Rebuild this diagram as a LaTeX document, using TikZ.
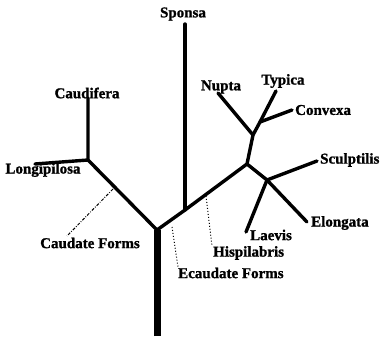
\documentclass[tikz,border=0pt]{standalone}
\usepackage{fontspec}
\setmainfont{Liberation Serif}[BoldFeatures={FakeBold=1.2}]
\usetikzlibrary{positioning}

\begin{document}
\begin{tikzpicture}[x=1pt, y=-1pt,
    branch/.style={line width=3.4pt, line cap=round, line join=round},
    trunk/.style={line width=7pt},
    label/.style={font=\fontsize{15}{15}\selectfont\bfseries, inner sep=0pt},
    guide/.style={line width=1pt, dotted},
    guidedash/.style={line width=1pt, dash pattern=on 3pt off 1.5pt on 0.8pt off 1.5pt}]
        \useasboundingbox (0,0) rectangle (381,337);
        % Define the forks
        \coordinate (base) at (157,336);
        \coordinate (root) at (157,230);
        \coordinate (lfork) at (88,160);
        \coordinate (sfork) at (185,210);
        \coordinate (ufork) at (247,164);
        \coordinate (nfork) at (253,135);
        \coordinate (tfork) at (260,122);
        \coordinate (dfork) at (267,180);
        % Define the tips
        \coordinate (caud_t) at (88,98);
        \coordinate (long_t) at (35,164);
        \coordinate (spon_t) at (185,24);
        \coordinate (nupt_t) at (218,93);
        \coordinate (typi_t) at (276,91);
        \coordinate (conv_t) at (292,110);
        \coordinate (scul_t) at (317,161);
        \coordinate (elon_t) at (307,222);
        \coordinate (laev_t) at (246,232);
        % Define the labels
        \node[label] (spon) at (183,14) {Sponsa};
        \node[label] (caud) at (87,93) {Caudifera};
        \node[label] (long) at (43,170) {Longipilosa};
        \node[label] (nupt) at (221,87) {Nupta};
        \node[label] (typi) at (283,81) {Typica};
        \node[label, anchor=west] (conv) at (295,110) {Convexa};
        \node[label, anchor=west] (scul) at (320,160) {Sculptilis};
        \node[label, anchor=west] (elon) at (311,223) {Elongata};
        \node[label, anchor=west] (laev) at (250,235) {Laevis};
        \node[label, anchor=west] (hisp) at (213,253) {Hispilabris};
        \node[label, anchor=west] (ecau) at (178,273) {Ecaudate Forms};
        \node[label] (cauf) at (90,243) {Caudate Forms};
        % Define the guides
        \coordinate (cauf_a) at (113,189);
        \coordinate (cauf_b) at (67,236);
        \coordinate (ecau_a) at (172,227);
        \coordinate (ecau_b) at (178,267);
        \coordinate (hisp_a) at (206,196);
        \coordinate (hisp_b) at (212,246);
        % Draw the tree
        \draw[trunk] (base) -- (root);
        \draw[branch] (root) -- (lfork) -- (caud_t);
        \draw[branch] (lfork) -- (long_t);
        \draw[branch] (root) -- (sfork) -- (ufork) -- (nfork) -- (tfork) -- (typi_t);
        \draw[branch] (sfork) -- (spon_t);
        \draw[branch] (nfork) -- (nupt_t);
        \draw[branch] (tfork) -- (conv_t);
        \draw[branch] (ufork) -- (dfork) -- (scul_t);
        \draw[branch] (dfork) -- (elon_t);
        \draw[branch] (dfork) -- (laev_t);
        \draw[guidedash] (cauf_a) -- (cauf_b);
        \draw[guide] (ecau_a) -- (ecau_b);
        \draw[guide] (hisp_a) -- (hisp_b);

    \end{tikzpicture}
\end{document}
